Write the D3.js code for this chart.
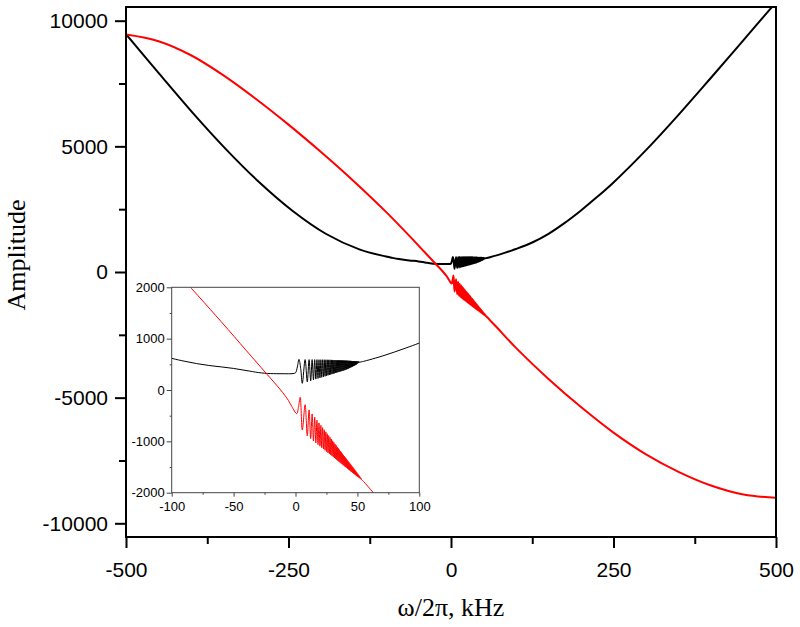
<!DOCTYPE html>
<html><head><meta charset="utf-8">
<script src="https://cdn.jsdelivr.net/npm/d3@7"></script>
<style>body{margin:0;background:#fff}</style>
</head><body>
<svg id="c" width="800" height="627"></svg>
<script>
// ---------- data ----------
const xTicksMain = [-500, -250, 0, 250, 500];
const xMinorMain = [-375, -125, 125, 375];
const yTicksMain = [-10000, -5000, 0, 5000, 10000];
const yMinorMain = [-7500, -2500, 2500, 7500];
const xTicksInset = [-100, -50, 0, 50, 100];
const xMinorInset = [-75, -25, 25, 75];
const yTicksInset = [-2000, -1000, 0, 1000, 2000];
const yMinorInset = [-1500, -500, 500, 1500];

// black curve, smooth part left of the resonance
const blackLeftF = [-500,-449,-397,-346,-295,-244,-192,-141,-100,-90,-80,-70,-60,-50,-40,-30,-25,-20,-10,-2,0,1.5,2.8,4.2];
const blackLeftA = [9460,7894,6324,4881,3570,2438,1512,900,617,562,515,478,450,420,380,340,327,320,317,320,335,450,597,420];
// frequencies of oscillation extrema (kHz)
const oscF = [5.50,7.76,9.50,10.97,12.26,13.43,14.50,15.50,16.44,17.33,18.17,18.98,19.75,20.50,21.22,21.91,22.59,23.24,23.88,24.50,25.10,25.70,26.27,26.84,27.39,27.93,28.46,28.99,29.50,30.00,30.50,30.99,31.47,31.94,32.41,32.87,33.32,33.77,34.21,34.64,35.07,35.50,35.92,36.34,36.75,37.15,37.55,37.95,38.34,38.73,39.12,39.50,39.88,40.25,40.62,40.99,41.35,41.71,42.07,42.43,42.78,43.13,43.48,43.82,44.16,44.50,44.84,45.17,45.50,45.83,46.15,46.48,46.80,47.12,47.44,47.75,48.06,48.37,48.68,48.99,49.30,49.60,49.90,50.20,50.50,50.80,51.09,51.38,51.67,51.96,52.25,52.54,52.82,53.10,53.39];
const blackOsc = [130,592,160,592,180,592,198,591,212,591,225,590,236,590,247,589,258,589,267,588,277,588,286,587,294,587,302,586,310,585,318,584,325,583,332,582,339,581,346,580,352,579,358,578,364,577,370,576,376,575,382,574,388,573,395,572,402,571,410,570,418,569,426,568,434,567,442,566,450,565,458,564,466,563,474,562,482,561,490,560,500,558,512,556,522,554,532,552,540];
const blackRightF = [53,55,60,70,80,90,100,125,150,175,200,225,250,300,350,400,450,500];
const blackRightA = [548,558,590,660,740,825,915,1175,1520,1955,2450,2990,3565,4850,6255,7730,9230,10730];

// red curve
const redLeftF = [-500,-450,-400,-350,-300,-250,-200,-150,-100,-60,-40,-23.8,-12,-5.8,-3,1.0,2.5,3.8];
const redLeftA = [9447,9185,8625,7824,6884,5864,4774,3624,2394,1330,775,328,0,-200,-320,-460,-320,-142];
const redOsc = [-780,-287,-893,-388,-947,-466,-991,-531,-1029,-589,-1063,-641,-1094,-689,-1123,-733,-1149,-775,-1175,-815,-1199,-853,-1222,-889,-1244,-924,-1265,-957,-1285,-989,-1305,-1020,-1324,-1051,-1342,-1079,-1360,-1109,-1378,-1136,-1394,-1163,-1411,-1189,-1427,-1215,-1443,-1241,-1458,-1265,-1473,-1289,-1489,-1313,-1503,-1336,-1518,-1359,-1531,-1382,-1545,-1404,-1559,-1426,-1573,-1447,-1586,-1468,-1599,-1489,-1611,-1510,-1624,-1530,-1636,-1550,-1648,-1570,-1660,-1590,-1672,-1610,-1682,-1630,-1694,-1649,-1704,-1669,-1715,-1688,-1724,-1708,-1735,-1726,-1746];
const redRightF = [55,62.9,70,100,150,200,250,300,350,400,450,500];
const redRightA = [-1782,-2000,-2190,-3020,-4255,-5375,-6390,-7255,-7950,-8495,-8855,-8985];

// ---------- build series ----------
const zip = (F, A) => A.map((a, i) => [F[i], a]);
const blackSeries = [...zip(blackLeftF, blackLeftA), ...zip(oscF, blackOsc), ...zip(blackRightF, blackRightA)];
const redSeries = [...zip(redLeftF, redLeftA), ...zip(oscF, redOsc), ...zip(redRightF, redRightA)];

const svg = d3.select('#c');
const sans = '"Liberation Sans", Arial, Helvetica, sans-serif';
const serif = '"Liberation Serif", "Times New Roman", Times, serif';

// ---------- main plot ----------
const M = {l: 126, r: 776, t: 7, b: 537};
const x = d3.scaleLinear().domain([-500, 500]).range([M.l, M.r]);
const y = d3.scaleLinear().domain([-10545, 10545]).range([M.b, M.t]);

svg.append('clipPath').attr('id', 'clipMain').append('rect')
  .attr('x', M.l).attr('y', M.t).attr('width', M.r - M.l).attr('height', M.b - M.t);

const lineMain = d3.line().x(d => x(d[0])).y(d => y(d[1])).curve(d3.curveCatmullRom.alpha(0.5));
const gMain = svg.append('g').attr('clip-path', 'url(#clipMain)');
gMain.append('path').datum(blackSeries).attr('d', lineMain).attr('fill', 'none').attr('stroke', '#000').attr('stroke-width', 2);
gMain.append('path').datum(redSeries).attr('d', lineMain).attr('fill', 'none').attr('stroke', '#ff0000').attr('stroke-width', 2);

function styleAxis(g, size, width, color) {
  g.select('.domain').remove();
  g.selectAll('.tick line').attr('stroke', color).attr('stroke-width', width);
  g.selectAll('.tick text').attr('fill', '#000').style('font-family', sans).style('font-size', size + 'px');
}
const fmt = d => String(d);

const gx = svg.append('g').attr('transform', `translate(0,${M.b})`)
  .call(d3.axisBottom(x).tickValues(xTicksMain).tickFormat(fmt).tickSize(11).tickPadding(14));
styleAxis(gx, 21, 2, '#000');
const gxm = svg.append('g').attr('transform', `translate(0,${M.b})`)
  .call(d3.axisBottom(x).tickValues(xMinorMain).tickFormat('').tickSize(7));
styleAxis(gxm, 21, 2, '#000');
const gy = svg.append('g').attr('transform', `translate(${M.l},0)`)
  .call(d3.axisLeft(y).tickValues(yTicksMain).tickFormat(fmt).tickSize(11).tickPadding(7));
styleAxis(gy, 21, 2, '#000');
const gym = svg.append('g').attr('transform', `translate(${M.l},0)`)
  .call(d3.axisLeft(y).tickValues(yMinorMain).tickFormat('').tickSize(7));
styleAxis(gym, 21, 2, '#000');

svg.append('rect').attr('x', M.l).attr('y', M.t).attr('width', M.r - M.l).attr('height', M.b - M.t)
  .attr('fill', 'none').attr('stroke', '#000').attr('stroke-width', 2);

svg.append('text').attr('transform', 'translate(25,255) rotate(-90)').attr('text-anchor', 'middle')
  .style('font-family', serif).style('font-size', '26px').text('Amplitude');
svg.append('text').attr('x', 451).attr('y', 616).attr('text-anchor', 'middle')
  .style('font-family', serif).style('font-size', '26px').text('ω/2π, kHz');

// ---------- inset ----------
const I = {l: 171.7, r: 419.3, t: 287.3, b: 492.7};
const xi = d3.scaleLinear().domain([-100, 100]).range([I.l, I.r]);
const yi = d3.scaleLinear().domain([-2000, 2000]).range([I.b, I.t]);

svg.append('rect').attr('x', I.l).attr('y', I.t).attr('width', I.r - I.l).attr('height', I.b - I.t).attr('fill', '#fff');
svg.append('clipPath').attr('id', 'clipInset').append('rect')
  .attr('x', I.l).attr('y', I.t).attr('width', I.r - I.l).attr('height', I.b - I.t);
const lineInset = d3.line().x(d => xi(d[0])).y(d => yi(d[1])).curve(d3.curveCatmullRom.alpha(0.5));
const gIn = svg.append('g').attr('clip-path', 'url(#clipInset)');
const inRange = s => s.filter(d => d[0] >= -150 && d[0] <= 150);
gIn.append('path').datum(inRange(blackSeries)).attr('d', lineInset).attr('fill', 'none').attr('stroke', '#000').attr('stroke-width', 1);
gIn.append('path').datum(inRange(redSeries)).attr('d', lineInset).attr('fill', 'none').attr('stroke', '#ff0000').attr('stroke-width', 1);

const gxi = svg.append('g').attr('transform', `translate(0,${I.b})`)
  .call(d3.axisBottom(xi).tickValues(xTicksInset).tickFormat(fmt).tickSize(4).tickPadding(5));
styleAxis(gxi, 13, 1, '#444');
const gxim = svg.append('g').attr('transform', `translate(0,${I.b})`)
  .call(d3.axisBottom(xi).tickValues(xMinorInset).tickFormat('').tickSize(2));
styleAxis(gxim, 13, 1, '#444');
const gyi = svg.append('g').attr('transform', `translate(${I.l},0)`)
  .call(d3.axisLeft(yi).tickValues(yTicksInset).tickFormat(fmt).tickSize(5).tickPadding(2));
styleAxis(gyi, 13, 1, '#444');
const gyim = svg.append('g').attr('transform', `translate(${I.l},0)`)
  .call(d3.axisLeft(yi).tickValues(yMinorInset).tickFormat('').tickSize(2));
styleAxis(gyim, 13, 1, '#444');

svg.append('rect').attr('x', I.l).attr('y', I.t).attr('width', I.r - I.l).attr('height', I.b - I.t)
  .attr('fill', 'none').attr('stroke', '#444').attr('stroke-width', 1);
</script>
</body></html>
